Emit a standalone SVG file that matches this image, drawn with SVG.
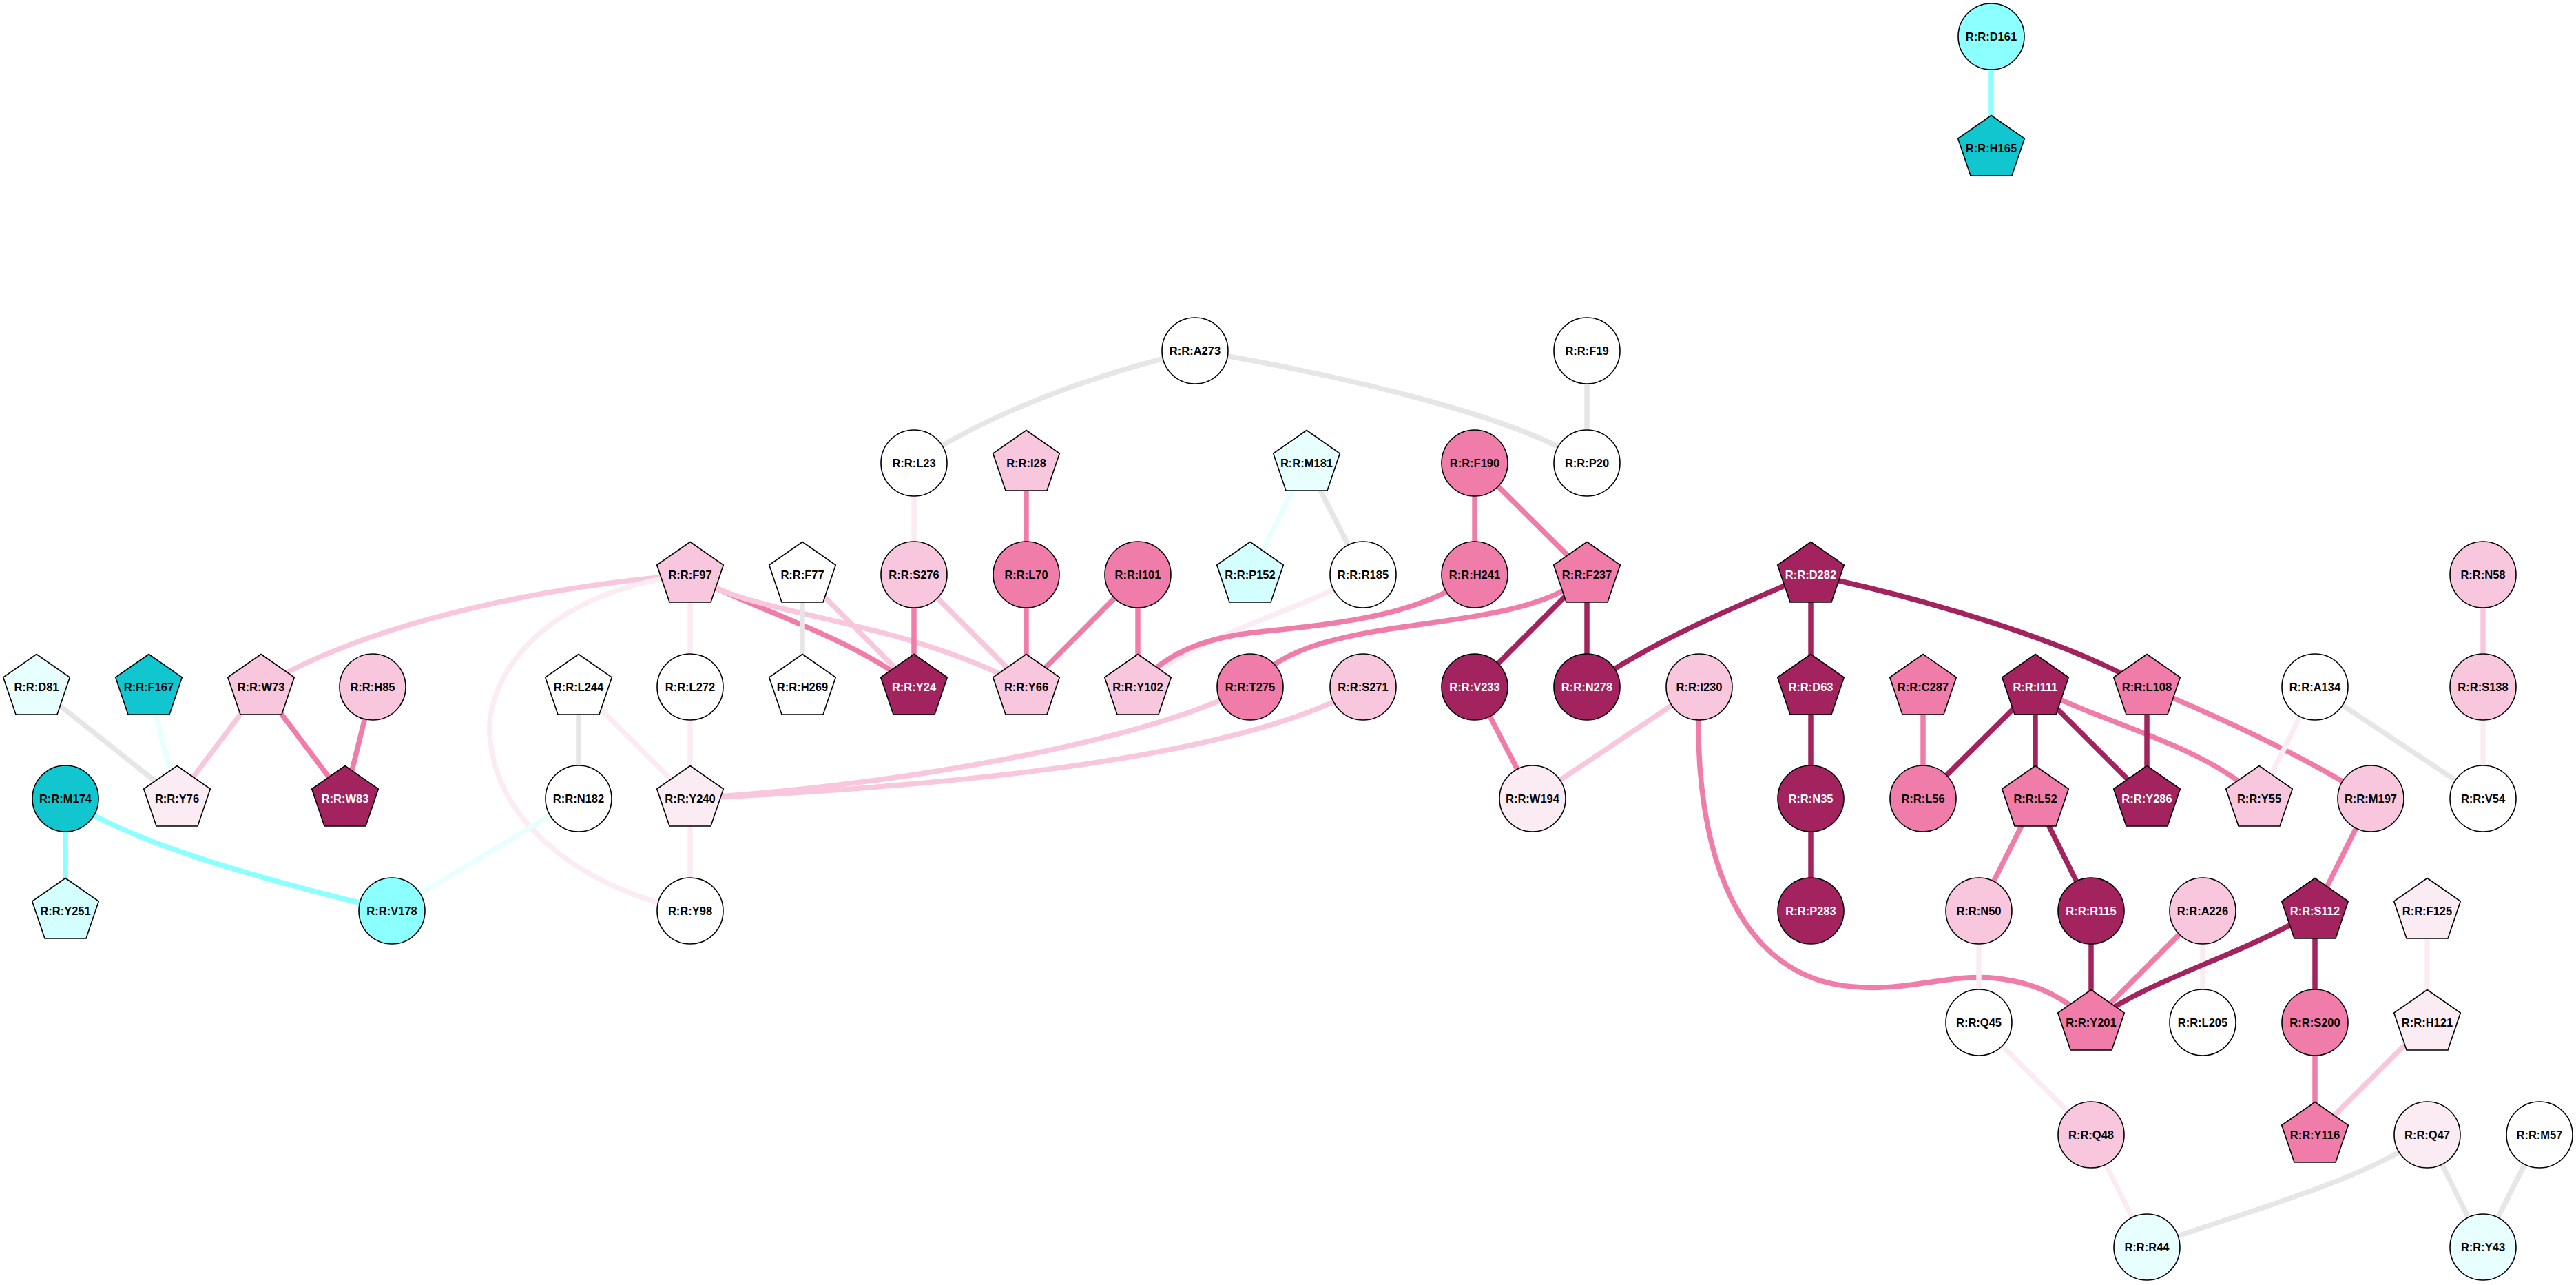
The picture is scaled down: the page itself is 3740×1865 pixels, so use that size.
<svg xmlns="http://www.w3.org/2000/svg" xmlns:xlink="http://www.w3.org/1999/xlink" width="3740" height="1865" viewBox="0 0 3740 1865">
<style>
.e{fill:none;stroke-width:7.5;stroke-linecap:butt}
.ed{stroke:#A2235D}.em{stroke:#F07CAA}.el{stroke:#F8C7DD}.ev{stroke:#FBEBF2}.eg{stroke:#E6E6E6}.ec{stroke:#8CFFFF}.ep{stroke:#E8FFFF}
.s{stroke:#000;stroke-width:1.6}
.dk{fill:#A2235D}.mp{fill:#F07CAA}.lp{fill:#F8C7DD}.vlp{fill:#FBEBF2}.w{fill:#FFFFFF}.cy{fill:#12C6D0}.lc{fill:#8CFFFF}.pc{fill:#D4FFFF}.vpc{fill:#E8FFFF}
text{font-family:"Liberation Sans",Arial,sans-serif;font-weight:bold;font-size:16.5px;text-anchor:middle;fill:#000}
text.wt{fill:#FFFFFF}
</style>
<defs>
<polygon id="pent" points="0,-47.5 48.3,-14 30,40 -30,40 -48.3,-14"/>
<circle id="circ" r="48"/>
</defs>
<rect width="3740" height="1865" fill="#FFFFFF"/>
<g id="connectors">
<path class="e ec" d="M2891,53 L2891,215"/>
<path class="e eg" d="M1327,672 C1420,610 1560,550 1735,509"/>
<path class="e eg" d="M1735,509 C1900,535 2200,600 2304,672"/>
<path class="e eg" d="M2304,509 L2304,672"/>
<path class="e ev" d="M1327,672 L1327,834"/>
<path class="e em" d="M1490,672 L1490,834"/>
<path class="e ep" d="M1897,672 L1815,834"/>
<path class="e eg" d="M1897,672 L1979,834"/>
<path class="e em" d="M2141,672 L2141,834"/>
<path class="e em" d="M2141,672 L2304,834"/>
<path class="e el" d="M1002,834 C800,850 540,900 379,997"/>
<path class="e em" d="M1002,834 C1080,880 1230,920 1327,997"/>
<path class="e el" d="M1002,834 C1090,895 1300,895 1490,997"/>
<path class="e ev" d="M1002,834 L1002,997"/>
<path class="e ev" d="M1002,834 C780,860 700,990 712,1076 C725,1200 850,1290 1002,1322"/>
<path class="e eg" d="M1165,834 L1165,997"/>
<path class="e el" d="M1165,834 L1327,997"/>
<path class="e em" d="M1327,834 L1327,997"/>
<path class="e el" d="M1327,834 L1490,997"/>
<path class="e em" d="M1490,834 L1490,997"/>
<path class="e em" d="M1652,834 L1490,997"/>
<path class="e em" d="M1652,834 L1652,997"/>
<path class="e ev" d="M1979,834 C1880,890 1740,920 1652,997"/>
<path class="e em" d="M2141,834 C2060,895 1940,905 1820,918 C1730,928 1680,960 1652,997"/>
<path class="e em" d="M2304,834 C2200,930 1900,880 1815,997"/>
<path class="e ed" d="M2304,834 L2141,997"/>
<path class="e ed" d="M2304,834 L2304,997"/>
<path class="e ed" d="M2629,834 C2520,880 2400,930 2304,997"/>
<path class="e ed" d="M2629,834 L2629,997"/>
<path class="e ed" d="M2629,834 C2800,870 3000,930 3117,997"/>
<path class="e el" d="M1815,997 C1650,1080 1300,1140 1002,1159"/>
<path class="e el" d="M1979,997 C1800,1100 1400,1140 1002,1159"/>
<path class="e em" d="M2141,997 L2225,1159"/>
<path class="e el" d="M2467,997 L2225,1159"/>
<path class="e em" d="M2467,997 C2455,1250 2530,1420 2690,1432 C2770,1440 2830,1412 2900,1420 C2960,1427 3000,1450 3036,1484"/>
<path class="e ed" d="M2629,997 L2629,1159"/>
<path class="e ed" d="M2629,1159 L2629,1322"/>
<path class="e em" d="M2792,997 L2792,1159"/>
<path class="e ed" d="M2955,997 L2792,1159"/>
<path class="e ed" d="M2955,997 L2955,1159"/>
<path class="e ed" d="M2955,997 L3117,1159"/>
<path class="e em" d="M2955,997 C3050,1050 3200,1080 3280,1159"/>
<path class="e ed" d="M3117,997 L3117,1159"/>
<path class="e em" d="M3117,997 C3220,1040 3350,1100 3442,1159"/>
<path class="e ev" d="M3361,997 L3280,1159"/>
<path class="e eg" d="M3361,997 L3605,1159"/>
<path class="e el" d="M3605,834 L3605,997"/>
<path class="e ev" d="M3605,997 L3605,1159"/>
<path class="e em" d="M2955,1159 L2873,1322"/>
<path class="e ed" d="M2955,1159 L3036,1322"/>
<path class="e ev" d="M2873,1322 L2873,1484"/>
<path class="e ed" d="M3036,1322 L3036,1484"/>
<path class="e em" d="M3198,1322 L3036,1484"/>
<path class="e ev" d="M3198,1322 L3198,1484"/>
<path class="e ed" d="M3361,1322 C3250,1390 3120,1420 3036,1484"/>
<path class="e ed" d="M3361,1322 L3361,1484"/>
<path class="e em" d="M3442,1159 L3361,1322"/>
<path class="e ev" d="M3524,1322 L3524,1484"/>
<path class="e em" d="M3361,1484 L3361,1647"/>
<path class="e el" d="M3524,1484 L3361,1647"/>
<path class="e ev" d="M2873,1484 L3036,1647"/>
<path class="e ev" d="M3036,1647 L3117,1810"/>
<path class="e eg" d="M3524,1647 C3420,1720 3250,1760 3117,1810"/>
<path class="e eg" d="M3524,1647 L3605,1810"/>
<path class="e eg" d="M3687,1647 L3605,1810"/>
<path class="e eg" d="M53,997 L257,1159"/>
<path class="e ep" d="M216,997 L257,1159"/>
<path class="e el" d="M379,997 L257,1159"/>
<path class="e em" d="M379,997 L501,1159"/>
<path class="e em" d="M541,997 L501,1159"/>
<path class="e ec" d="M95,1159 L95,1322"/>
<path class="e ec" d="M95,1159 C200,1230 400,1280 569,1322"/>
<path class="e ep" d="M840,1159 L569,1322"/>
<path class="e eg" d="M840,997 L840,1159"/>
<path class="e ev" d="M840,997 L1002,1159"/>
<path class="e ev" d="M1002,997 L1002,1159"/>
<path class="e ev" d="M1002,1159 L1002,1322"/>
</g>
<g id="n-D161" transform="translate(2891,53)"><use href="#circ" class="s lc"/><text y="6">R:R:D161</text></g>
<g id="n-H165" transform="translate(2891,215)"><use href="#pent" class="s cy"/><text y="6">R:R:H165</text></g>
<g id="n-A273" transform="translate(1735,509)"><use href="#circ" class="s w"/><text y="6">R:R:A273</text></g>
<g id="n-F19" transform="translate(2304,509)"><use href="#circ" class="s w"/><text y="6">R:R:F19</text></g>
<g id="n-L23" transform="translate(1327,672)"><use href="#circ" class="s w"/><text y="6">R:R:L23</text></g>
<g id="n-I28" transform="translate(1490,672)"><use href="#pent" class="s lp"/><text y="6">R:R:I28</text></g>
<g id="n-M181" transform="translate(1897,672)"><use href="#pent" class="s vpc"/><text y="6">R:R:M181</text></g>
<g id="n-F190" transform="translate(2141,672)"><use href="#circ" class="s mp"/><text y="6">R:R:F190</text></g>
<g id="n-P20" transform="translate(2304,672)"><use href="#circ" class="s w"/><text y="6">R:R:P20</text></g>
<g id="n-F97" transform="translate(1002,834)"><use href="#pent" class="s lp"/><text y="6">R:R:F97</text></g>
<g id="n-F77" transform="translate(1165,834)"><use href="#pent" class="s w"/><text y="6">R:R:F77</text></g>
<g id="n-S276" transform="translate(1327,834)"><use href="#circ" class="s lp"/><text y="6">R:R:S276</text></g>
<g id="n-L70" transform="translate(1490,834)"><use href="#circ" class="s mp"/><text y="6">R:R:L70</text></g>
<g id="n-I101" transform="translate(1652,834)"><use href="#circ" class="s mp"/><text y="6">R:R:I101</text></g>
<g id="n-P152" transform="translate(1815,834)"><use href="#pent" class="s pc"/><text y="6">R:R:P152</text></g>
<g id="n-R185" transform="translate(1979,834)"><use href="#circ" class="s w"/><text y="6">R:R:R185</text></g>
<g id="n-H241" transform="translate(2141,834)"><use href="#circ" class="s mp"/><text y="6">R:R:H241</text></g>
<g id="n-F237" transform="translate(2304,834)"><use href="#pent" class="s mp"/><text y="6">R:R:F237</text></g>
<g id="n-D282" transform="translate(2629,834)"><use href="#pent" class="s dk"/><text y="6" class="wt">R:R:D282</text></g>
<g id="n-N58" transform="translate(3605,834)"><use href="#circ" class="s lp"/><text y="6">R:R:N58</text></g>
<g id="n-D81" transform="translate(53,997)"><use href="#pent" class="s vpc"/><text y="6">R:R:D81</text></g>
<g id="n-F167" transform="translate(216,997)"><use href="#pent" class="s cy"/><text y="6">R:R:F167</text></g>
<g id="n-W73" transform="translate(379,997)"><use href="#pent" class="s lp"/><text y="6">R:R:W73</text></g>
<g id="n-H85" transform="translate(541,997)"><use href="#circ" class="s lp"/><text y="6">R:R:H85</text></g>
<g id="n-L244" transform="translate(840,997)"><use href="#pent" class="s w"/><text y="6">R:R:L244</text></g>
<g id="n-L272" transform="translate(1002,997)"><use href="#circ" class="s w"/><text y="6">R:R:L272</text></g>
<g id="n-H269" transform="translate(1165,997)"><use href="#pent" class="s w"/><text y="6">R:R:H269</text></g>
<g id="n-Y24" transform="translate(1327,997)"><use href="#pent" class="s dk"/><text y="6" class="wt">R:R:Y24</text></g>
<g id="n-Y66" transform="translate(1490,997)"><use href="#pent" class="s lp"/><text y="6">R:R:Y66</text></g>
<g id="n-Y102" transform="translate(1652,997)"><use href="#pent" class="s lp"/><text y="6">R:R:Y102</text></g>
<g id="n-T275" transform="translate(1815,997)"><use href="#circ" class="s mp"/><text y="6">R:R:T275</text></g>
<g id="n-S271" transform="translate(1979,997)"><use href="#circ" class="s lp"/><text y="6">R:R:S271</text></g>
<g id="n-V233" transform="translate(2141,997)"><use href="#circ" class="s dk"/><text y="6" class="wt">R:R:V233</text></g>
<g id="n-N278" transform="translate(2304,997)"><use href="#circ" class="s dk"/><text y="6" class="wt">R:R:N278</text></g>
<g id="n-I230" transform="translate(2467,997)"><use href="#circ" class="s lp"/><text y="6">R:R:I230</text></g>
<g id="n-D63" transform="translate(2629,997)"><use href="#pent" class="s dk"/><text y="6" class="wt">R:R:D63</text></g>
<g id="n-C287" transform="translate(2792,997)"><use href="#pent" class="s mp"/><text y="6">R:R:C287</text></g>
<g id="n-I111" transform="translate(2955,997)"><use href="#pent" class="s dk"/><text y="6" class="wt">R:R:I111</text></g>
<g id="n-L108" transform="translate(3117,997)"><use href="#pent" class="s mp"/><text y="6">R:R:L108</text></g>
<g id="n-A134" transform="translate(3361,997)"><use href="#circ" class="s w"/><text y="6">R:R:A134</text></g>
<g id="n-S138" transform="translate(3605,997)"><use href="#circ" class="s lp"/><text y="6">R:R:S138</text></g>
<g id="n-M174" transform="translate(95,1159)"><use href="#circ" class="s cy"/><text y="6">R:R:M174</text></g>
<g id="n-Y76" transform="translate(257,1159)"><use href="#pent" class="s vlp"/><text y="6">R:R:Y76</text></g>
<g id="n-W83" transform="translate(501,1159)"><use href="#pent" class="s dk"/><text y="6" class="wt">R:R:W83</text></g>
<g id="n-N182" transform="translate(840,1159)"><use href="#circ" class="s w"/><text y="6">R:R:N182</text></g>
<g id="n-Y240" transform="translate(1002,1159)"><use href="#pent" class="s vlp"/><text y="6">R:R:Y240</text></g>
<g id="n-W194" transform="translate(2225,1159)"><use href="#circ" class="s vlp"/><text y="6">R:R:W194</text></g>
<g id="n-N35" transform="translate(2629,1159)"><use href="#circ" class="s dk"/><text y="6" class="wt">R:R:N35</text></g>
<g id="n-L56" transform="translate(2792,1159)"><use href="#circ" class="s mp"/><text y="6">R:R:L56</text></g>
<g id="n-L52" transform="translate(2955,1159)"><use href="#pent" class="s mp"/><text y="6">R:R:L52</text></g>
<g id="n-Y286" transform="translate(3117,1159)"><use href="#pent" class="s dk"/><text y="6" class="wt">R:R:Y286</text></g>
<g id="n-Y55" transform="translate(3280,1159)"><use href="#pent" class="s lp"/><text y="6">R:R:Y55</text></g>
<g id="n-M197" transform="translate(3442,1159)"><use href="#circ" class="s lp"/><text y="6">R:R:M197</text></g>
<g id="n-V54" transform="translate(3605,1159)"><use href="#circ" class="s w"/><text y="6">R:R:V54</text></g>
<g id="n-Y251" transform="translate(95,1322)"><use href="#pent" class="s pc"/><text y="6">R:R:Y251</text></g>
<g id="n-V178" transform="translate(569,1322)"><use href="#circ" class="s lc"/><text y="6">R:R:V178</text></g>
<g id="n-Y98" transform="translate(1002,1322)"><use href="#circ" class="s w"/><text y="6">R:R:Y98</text></g>
<g id="n-P283" transform="translate(2629,1322)"><use href="#circ" class="s dk"/><text y="6" class="wt">R:R:P283</text></g>
<g id="n-N50" transform="translate(2873,1322)"><use href="#circ" class="s lp"/><text y="6">R:R:N50</text></g>
<g id="n-R115" transform="translate(3036,1322)"><use href="#circ" class="s dk"/><text y="6" class="wt">R:R:R115</text></g>
<g id="n-A226" transform="translate(3198,1322)"><use href="#circ" class="s lp"/><text y="6">R:R:A226</text></g>
<g id="n-S112" transform="translate(3361,1322)"><use href="#pent" class="s dk"/><text y="6" class="wt">R:R:S112</text></g>
<g id="n-F125" transform="translate(3524,1322)"><use href="#pent" class="s vlp"/><text y="6">R:R:F125</text></g>
<g id="n-Q45" transform="translate(2873,1484)"><use href="#circ" class="s w"/><text y="6">R:R:Q45</text></g>
<g id="n-Y201" transform="translate(3036,1484)"><use href="#pent" class="s mp"/><text y="6">R:R:Y201</text></g>
<g id="n-L205" transform="translate(3198,1484)"><use href="#circ" class="s w"/><text y="6">R:R:L205</text></g>
<g id="n-S200" transform="translate(3361,1484)"><use href="#circ" class="s mp"/><text y="6">R:R:S200</text></g>
<g id="n-H121" transform="translate(3524,1484)"><use href="#pent" class="s vlp"/><text y="6">R:R:H121</text></g>
<g id="n-Q48" transform="translate(3036,1647)"><use href="#circ" class="s lp"/><text y="6">R:R:Q48</text></g>
<g id="n-Y116" transform="translate(3361,1647)"><use href="#pent" class="s mp"/><text y="6">R:R:Y116</text></g>
<g id="n-Q47" transform="translate(3524,1647)"><use href="#circ" class="s vlp"/><text y="6">R:R:Q47</text></g>
<g id="n-M57" transform="translate(3687,1647)"><use href="#circ" class="s w"/><text y="6">R:R:M57</text></g>
<g id="n-R44" transform="translate(3117,1810)"><use href="#circ" class="s vpc"/><text y="6">R:R:R44</text></g>
<g id="n-Y43" transform="translate(3605,1810)"><use href="#circ" class="s vpc"/><text y="6">R:R:Y43</text></g>
</svg>
